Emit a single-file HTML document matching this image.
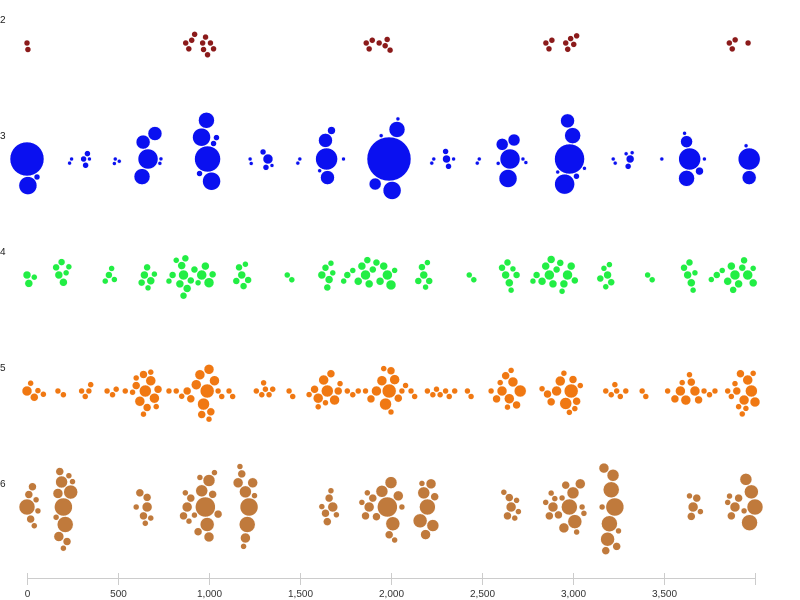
<!DOCTYPE html>
<html><head><meta charset="utf-8"><style>
html,body{margin:0;padding:0;background:#fff;}
svg{display:block;font-family:"Liberation Sans",sans-serif;}
</style></head><body>
<svg id="chart" width="800" height="600"></svg>
<script>
const rowLabels = ["2","3","4","5","6"];
const rowColors = ["#8b1a1a","#0a10f0","#22ee44","#f07812","#c07a3c"];
const xTicks = [0,500,1000,1500,2000,2500,3000,3500,4000];
const xTickLabels = ["0","500","1,000","1,500","2,000","2,500","3,000","3,500",""];
const row2 = [[0,3],[5,3],[872,3],[889,3],[905,3],[965,3],[970,3],[981,3],[992,3],[1008,3],[1025,3],[921,3],[1864,3],[1880,3],[1897,3],[1935,3],[1968,3],[1979,3],[1995,3],[2851,3],[2868,3],[2884,3],[2960,3],[2971,3],[2987,3],[3004,3],[3020,3],[3859,3],[3875,3],[3891,3],[3962,3]];
const row3 = [[0,17],[5,9],[55,3],[245,2],[234,2],[311,3],[322,3],[343,2],[332,3],[485,2],[480,2],[507,2],[638,7],[703,7],[632,8],[665,10],[730,2],[736,2],[1014,9],[959,9],[986,8],[992,13],[948,3],[1025,3],[1041,3],[1226,2],[1232,2],[1313,3],[1346,2],[1324,5],[1297,3],[1499,2],[1488,2],[1673,4],[1651,7],[1646,11],[1640,7],[1608,2],[1739,2],[1913,6],[2006,9],[1989,22],[2033,8],[1946,2],[2038,2],[2235,2],[2224,2],[2316,3],[2305,4],[2344,2],[2300,3],[2485,2],[2474,2],[2643,9],[2611,6],[2676,6],[2654,10],[2589,2],[2725,2],[2741,2],[2970,7],[2981,15],[2954,10],[2998,8],[2916,2],[3063,2],[3019,3],[3221,2],[3232,2],[3303,3],[3292,2],[3325,2],[3314,4],[3488,2],[3641,11],[3624,8],[3695,4],[3624,6],[3613,2],[3722,2],[3968,7],[3968,11],[3951,2]];
const row4 = [[0,4],[10,4],[40,3],[160,3.5],[175,4],[190,3.5],[200,4],[215,3],[230,3],[430,3],[450,3.5],[465,3],[480,3],[630,3.5],[645,4],[660,3.5],[680,4],[700,3],[665,3],[780,3],[800,3.5],[820,3],[840,4],[850,4],[860,5],[870,3.5],[880,4],[900,3.5],[920,3.5],[940,3],[960,5],[980,4],[1000,5],[1020,3.5],[860,3.5],[1150,3.5],[1165,3.5],[1180,4],[1200,3],[1215,3.5],[1190,3.5],[1430,3],[1455,3],[1620,4],[1640,3.5],[1660,4],[1680,3],[1650,3.5],[1670,3],[1740,3],[1760,3.5],[1790,3],[1820,4],[1840,4],[1860,5],[1880,4],[1900,3.5],[1920,3.5],[1940,4],[1960,4],[1980,5],[2000,5],[2020,3],[1870,3.5],[2150,3.5],[2170,3.5],[2190,3],[2210,3.5],[2180,4],[2200,3],[2430,3],[2455,3],[2610,3.5],[2630,4],[2650,4],[2670,3],[2690,3.5],[2640,3.5],[2660,3],[2780,3],[2800,3.5],[2830,4],[2850,4],[2870,5],[2890,4],[2910,3.5],[2930,3.5],[2950,4],[2970,5],[2990,4],[3010,3.5],[2880,4],[2940,3],[3150,3.5],[3170,3],[3190,4],[3210,3.5],[3180,3],[3200,3],[3410,3],[3435,3],[3610,3.5],[3630,4],[3650,4],[3670,3],[3640,3.5],[3660,3],[3760,3],[3790,3.5],[3820,3],[3850,4],[3870,4],[3890,5],[3910,4],[3930,3.5],[3960,5],[3990,4],[3880,3.5],[3940,3.5],[3990,3]];
const row5 = [[0,5],[20,3],[60,3],[40,4],[90,3],[170,3],[200,3],[300,3],[320,3],[340,3],[350,3],[440,3],[470,3],[490,3],[540,3],[580,3],[600,4],[620,5],[640,4],[650,6],[660,4],[680,3],[700,5],[720,4],[640,3],[600,3],[680,5],[710,3],[780,3],[820,3],[850,3],[880,4],[900,4],[930,5],[950,5],[970,6],[990,7],[1000,5],[1010,4],[1030,5],[1050,3],[960,4],[1000,3],[1070,3],[1110,3],[1130,3],[1260,3],[1290,3],[1310,3],[1330,3],[1350,3],[1300,3],[1440,3],[1460,3],[1550,3],[1580,4],[1600,5],[1630,5],[1650,6],[1670,4],[1690,5],[1710,4],[1640,3],[1600,3],[1720,3],[1760,3],[1790,3],[1820,3],[1860,3],[1890,4],[1920,5],[1950,5],[1970,6],[1990,7],[2000,4],[2020,5],[2040,4],[1960,3],[2060,3],[2080,3],[2110,3],[2130,3],[2000,3],[2200,3],[2230,3],[2250,3],[2270,3],[2300,3],[2320,3],[2350,3],[2420,3],[2440,3],[2550,3],[2580,4],[2610,5],[2630,4],[2650,5],[2670,5],[2690,4],[2710,6],[2640,3],[2600,3],[2660,3],[2830,3],[2860,4],[2880,4],[2910,5],[2930,5],[2960,6],[2990,7],[3000,4],[3020,4],[3040,3],[2950,3],[2980,3],[3010,3],[3180,3],[3210,3],[3240,3],[3260,3],[3290,3],[3230,3],[3380,3],[3400,3],[3520,3],[3560,4],[3590,5],[3620,5],[3650,4],[3670,5],[3690,4],[3720,3],[3750,3],[3780,3],[3640,3],[3600,3],[3850,3],[3870,3],[3900,4],[3920,4],[3940,5],[3960,5],[3980,6],[4000,5],[3890,3],[3950,3],[3910,3],[3990,3],[3930,3]];
const row6 = [[0,8],[20,4],[40,3],[10,4],[50,3],[30,4],[60,3],[170,5],[200,9],[210,8],[190,6],[240,7],[180,4],[220,4],[250,3],[160,3],[200,3],[230,3],[175,5],[600,3],[640,4],[660,4],[620,4],[680,3],[650,3],[660,5],[860,4],[880,5],[900,4],[920,3],[960,6],[980,10],[1000,6],[990,7],[1020,4],[1050,4],[1000,5],[940,4],[890,3],[870,3],[1030,3],[950,3],[1160,5],[1180,4],[1200,6],[1210,8],[1220,9],[1240,5],[1190,3],[1250,3],[1170,3],[1200,5],[1620,3],[1640,4],[1660,4],[1680,5],[1650,4],[1670,3],[1700,3],[1840,3],[1860,4],[1880,5],[1900,4],[1950,6],[1980,10],[2000,6],[2010,7],[2040,5],[2020,3],[1920,4],[1870,3],[2060,3],[1990,4],[2160,7],[2180,6],[2200,8],[2220,5],[2230,6],[2190,5],[2240,4],[2170,3],[2620,3],[2640,4],[2660,5],[2680,3],[2700,3],[2650,4],[2690,3],[2850,3],[2870,4],[2890,5],[2920,4],[2950,5],[2980,8],[3000,6],[3010,7],[3040,5],[3020,3],[2960,4],[3050,3],[2900,3],[2940,3],[3060,3],[2880,3],[3170,5],[3190,7],[3200,8],[3210,8],[3230,9],[3180,4],[3240,4],[3220,6],[3250,3],[3160,3],[3640,3],[3650,4],[3660,5],[3680,4],[3700,3],[3850,3],[3870,4],[3890,5],[3910,4],[3950,6],[3980,7],[4000,8],[3970,8],[3940,3],[3860,3]];
const rows = [row2,row3,row4,row5,row6];

const NS="http://www.w3.org/2000/svg";
const svg=document.getElementById('chart');
const X0=27,X1=755,DMAX=4000;
function xScale(v){return X0+(v/DMAX)*(X1-X0);}
function bandTop(i){return 19+116*i;}
function bandCenter(i){return bandTop(i)+24;}
function mk(t,a){const e=document.createElementNS(NS,t);for(const k in a)e.setAttribute(k,a[k]);svg.appendChild(e);return e;}

function swarm(data){
  const items=data.map(d=>({x:xScale(d[0]),r:d[1]})).sort((a,b)=>b.r-a.r);
  const placed=[];
  items.forEach(it=>{
    const cands=[0];
    placed.forEach(p=>{
      const dx=it.x-p.x, R=it.r+p.r+0.6;
      if(Math.abs(dx)<R){const h=Math.sqrt(R*R-dx*dx);cands.push(p.y+h,p.y-h);}
    });
    cands.sort((a,b)=>Math.abs(a)-Math.abs(b));
    for(const y of cands){
      let ok=true;
      for(const p of placed){const dx=it.x-p.x,dy=y-p.y,R=it.r+p.r+0.5;if(dx*dx+dy*dy<R*R-0.01){ok=false;break;}}
      if(ok){it.y=y;break;}
    }
    placed.push(it);
  });
  return placed;
}

rows.forEach((data,i)=>{
  const lab=mk('text',{x:0,y:bandTop(i)+4,'font-size':10,fill:'#222'});
  lab.textContent=rowLabels[i];
  
  
  swarm(data).forEach(c=>{
    const el=mk('circle',{cx:c.x,cy:bandCenter(i)+c.y,r:c.r,fill:rowColors[i],stroke:'#fff','stroke-width':0.5});
    
    
  });
});

const ax=mk('line',{x1:X0,x2:X1,y1:578.5,y2:578.5,stroke:'#ccc'});


xTicks.forEach((t,k)=>{
  const x=Math.round(xScale(t))+0.5;
  const tk=mk('line',{x1:x,x2:x,y1:573,y2:585,stroke:'#ccc'});
  
  
  const tl=mk('text',{x:x,y:597,'font-size':10,fill:'#333','text-anchor':'middle'});
  tl.textContent=xTickLabels[k];
  
  
});
</script>
</body></html>
